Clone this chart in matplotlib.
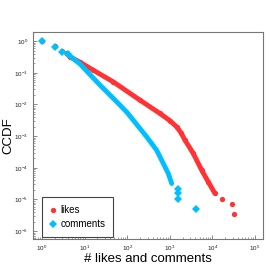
import matplotlib
matplotlib.use("Agg")
import matplotlib.pyplot as plt
import matplotlib.ticker as mticker

plt.rcParams["font.family"] = ["Liberation Sans", "DejaVu Sans"]

# likes: dense curve + scattered tail
likes_x = [1, 2, 3, 3.8, 4.5, 7.8, 16, 47, 200, 589, 1011, 1452, 1833, 2275, 3565, 5610,
           8020, 11500]
likes_y = [1.0, 0.7, 0.5, 0.41, 0.32, 0.217, 0.121, 0.052, 0.0137, 0.0052, 3.08e-3,
           0.00197, 1.29e-3, 7.5e-4, 2.85e-4, 8.45e-5, 3.6e-5, 1.55e-5]
likes_tail_x = [16500, 28400, 32100]
likes_tail_y = [1.03e-5, 7.0e-6, 3.45e-6]

# comments
comments_x = [1, 2, 3, 4, 7.8, 23, 57, 97, 139, 287, 492, 922, 1109]
comments_y = [1.0, 0.66, 0.47, 0.39, 0.19, 0.041, 0.0121, 0.0058, 0.0032, 9.5e-4, 3.6e-4,
              6.65e-5, 3.2e-5]
comments_tail_x = [1585, 1585, 1585, 4120]
comments_tail_y = [2.07e-5, 1.55e-5, 1.0e-5, 4.95e-6]

x_ticks = [1e0, 1e1, 1e2, 1e3, 1e4, 1e5]
y_ticks = [1e-6, 1e-5, 1e-4, 1e-3, 1e-2, 1e-1, 1e0]

red = "#ff3333"
blue = "#00bfff"

fig = plt.figure(figsize=(2.8, 2.8), dpi=100)
ax = fig.add_axes([0.118, 0.146, 0.821, 0.739])

# likes
ax.plot(likes_x[3:], likes_y[3:], "-", color=red, lw=3.5, solid_capstyle="round",
        solid_joinstyle="round")
ax.plot(likes_x + likes_tail_x, likes_y + likes_tail_y, "o", color=red, ms=3.8,
        mew=0, label="likes")
# comments
ax.plot(comments_x[3:], comments_y[3:], "-", color=blue, lw=3.5, solid_capstyle="round",
        solid_joinstyle="round")
ax.plot(comments_x[:4] + comments_tail_x, comments_y[:4] + comments_tail_y, "D",
        color=blue, ms=4.0, mew=0, label="comments")

ax.set_xscale("log")
ax.set_yscale("log")
ax.set_xlim(0.615, 1.54e5)
ax.set_ylim(5.6e-7, 1.92)

ax.xaxis.set_major_locator(mticker.FixedLocator(x_ticks))
ax.yaxis.set_major_locator(mticker.FixedLocator(y_ticks))
ax.xaxis.set_major_formatter(mticker.LogFormatterSciNotation())
ax.yaxis.set_major_formatter(mticker.LogFormatterSciNotation())
ax.xaxis.set_minor_locator(mticker.LogLocator(base=10, subs=range(2, 10), numticks=20))
ax.yaxis.set_minor_locator(mticker.LogLocator(base=10, subs=range(2, 10), numticks=20))
ax.xaxis.set_minor_formatter(mticker.NullFormatter())
ax.yaxis.set_minor_formatter(mticker.NullFormatter())

ax.tick_params(which="both", direction="in", colors="#777777", labelcolor="#222222",
               labelsize=4.5, top=False, right=False)
ax.tick_params(which="major", length=3, width=0.6)
ax.tick_params(which="minor", length=1.6, width=0.5)
for s in ax.spines.values():
    s.set_color("#777777")
    s.set_linewidth(0.8)

ax.set_xlabel("# likes and comments", fontsize=9.5)
ax.set_ylabel("CCDF", fontsize=9.5)
ax.xaxis.set_label_coords(0.5, -0.068)
ax.yaxis.set_label_coords(-0.08, 0.5)

leg = ax.legend(loc="lower left", bbox_to_anchor=(0.03, 0.0), fontsize=7,
                fancybox=False, framealpha=1, edgecolor="#444444",
                handlelength=0.6, handletextpad=0.5, borderpad=0.8,
                labelspacing=0.45, borderaxespad=0.2)
leg.get_frame().set_linewidth(0.8)

fig.savefig("out.png", dpi=100)
